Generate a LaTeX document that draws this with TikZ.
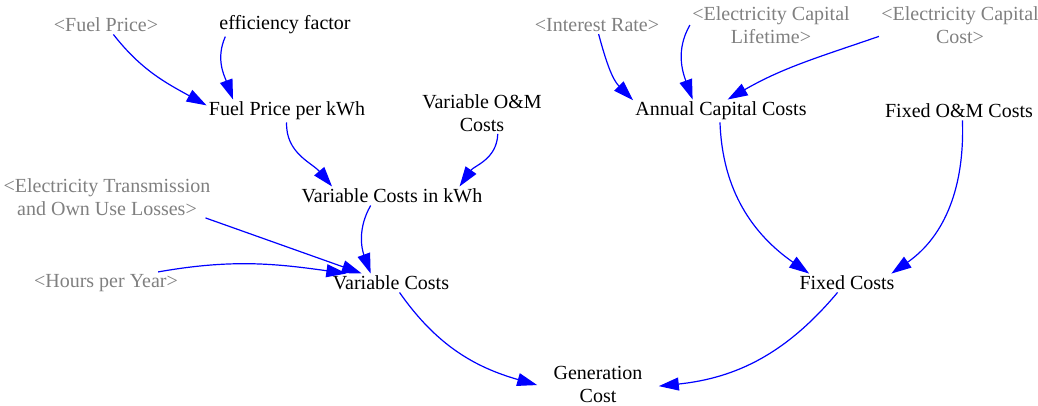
\documentclass[tikz,border=0pt]{standalone}
\usepackage{fontspec}
\setmainfont{Liberation Serif}
\usepackage{tikz}
\usetikzlibrary{arrows.meta}
\definecolor{vblue}{RGB}{0,0,255}
\definecolor{vgray}{RGB}{128,128,128}

\begin{document}
\begin{tikzpicture}[x=0.5pt,y=0.5pt,
	var/.style={inner sep=1pt,align=center,font=\fontsize{10}{11.5}\selectfont},
	shadow/.style={var,text=vgray},
	link/.style={draw=vblue,line width=0.6pt,-{Triangle[length=10pt,width=6.5pt]}}]
	\useasboundingbox (0,0) rectangle (1038,-406);
	% variables
	\node[shadow] (fuelp) at (106,-25) {<Fuel Price>};
	\node[var] (eff) at (285,-25) {efficiency factor};
	\node[var] (fpk) at (287,-111) {Fuel Price per kWh};
	\node[var] (vom) at (482,-113) {Variable O\&M\\Costs};
	\node[var] (vck) at (392,-196) {Variable Costs in kWh};
	\node[shadow] (loss) at (107,-197) {<Electricity Transmission\\and Own Use Losses>};
	\node[shadow] (hrs) at (106,-283) {<Hours per Year>};
	\node[var] (vc) at (391,-283) {Variable Costs};
	\node[var,inner xsep=8pt] (gen) at (598,-384) {Generation\\Cost};
	\node[shadow] (ir) at (597,-25) {<Interest Rate>};
	\node[shadow] (life) at (771,-25) {<Electricity Capital\\Lifetime>};
	\node[shadow] (capc) at (960,-25) {<Electricity Capital\\Cost>};
	\node[var] (acc) at (721,-111) {Annual Capital Costs};
	\node[var] (fom) at (959,-111) {Fixed O\&M Costs};
	\node[var] (fc) at (847,-283) {Fixed Costs};
	% links
	\draw[link] (fuelp.-52) to[out=-52,in=151] (fpk.176);
	\draw[link] (eff.-169) to[out=-114,in=110] (fpk.168);
	\draw[link] (fpk.-92) to[out=-92,in=130] (vck.171);
	\draw[link] (vom.-53) to[out=-92,in=55] (vck.8);
	\draw[link] (loss.-12) -- (vc.162);
	\draw[link] (hrs.12) to[out=10,in=172] (vc.168);
	\draw[link] (vck.-156) to[out=-120,in=110] (vc.155);
	\draw[link] (vc.-48) to[out=-55,in=164] (gen.181);
	\draw[link] (fc.-135) to[out=-130,in=6] (gen.-2);
	\draw[link] (ir.-80) to[out=-75,in=135] (acc.173);
	\draw[link] (life.180) to[out=-120,in=110] (acc.158);
	\draw[link] (capc.-172) to[out=-161,in=30] (acc.60);
	\draw[link] (acc.-95) to[out=-88,in=145] (fc.166);
	\draw[link] (fom.-70) to[out=-88,in=35] (fc.12);
\end{tikzpicture}
\end{document}
